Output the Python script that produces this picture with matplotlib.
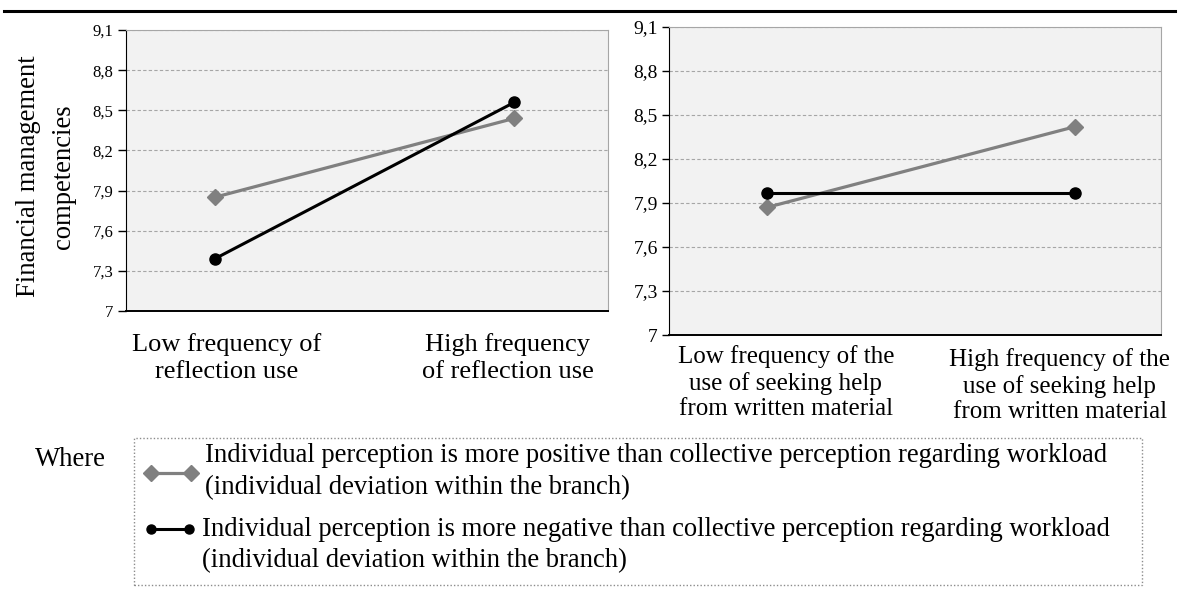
import matplotlib
matplotlib.use("Agg")
import matplotlib.pyplot as plt
import matplotlib.transforms as mtransforms
from matplotlib.lines import Line2D
from matplotlib.patches import Rectangle

plt.rcParams['font.family'] = ['Liberation Serif', 'DejaVu Serif']

# ---- data ----
left_categories = ["Low frequency of\nreflection use", "High frequency\nof reflection use"]
right_categories = ["Low frequency of the\nuse of seeking help\nfrom written material",
                    "High frequency of the\nuse of seeking help\nfrom written material"]
left_positive = [7.85, 8.44]
left_negative = [7.39, 8.56]
right_positive = [7.87, 8.42]
right_negative = [7.97, 7.97]
y_ticks = [7.0, 7.3, 7.6, 7.9, 8.2, 8.5, 8.8, 9.1]
y_tick_labels = ["7", "7,3", "7,6", "7,9", "8,2", "8,5", "8,8", "9,1"]
y_label = "Financial management\ncompetencies"
legend_positive = "Individual perception is more positive than collective perception regarding workload\n(individual deviation within the branch)"
legend_negative = "Individual perception is more negative than collective perception regarding workload\n(individual deviation within the branch)"
where_text = "Where"

W, H = 1179, 593
fig = plt.figure(figsize=(W / 100, H / 100), dpi=100)


def fx(x):
    return x / W


def fy(y):
    return 1 - y / H


GRAY = "#808080"
BG = "#f2f2f2"
FS = 19.15


def make_axes(rect, pos_vals, neg_vals, cats, xlim, ticksize, ticklen,
              label_offsets, pad, catsize, catspacing):
    ax = fig.add_axes(rect)
    ax.set_facecolor(BG)
    xs = list(range(len(cats)))
    ax.plot(xs, pos_vals, color=GRAY, lw=2.3, marker='D', markersize=8.5,
            markerfacecolor=GRAY, markeredgecolor=GRAY, zorder=3)
    ax.plot(xs, neg_vals, color='black', lw=2.2, marker='o', markersize=8,
            markerfacecolor='black', markeredgecolor='black', zorder=4)
    ax.set_xlim(*xlim)
    ax.set_ylim(7.0, 9.1)
    ax.set_yticks(y_ticks)
    ax.set_yticklabels(y_tick_labels, fontsize=ticksize)
    ax.yaxis.grid(True, linestyle=(0, (3, 2)), color='#a6a6a6', linewidth=0.8)
    ax.set_axisbelow(True)
    ax.set_xticks(xs)
    ax.set_xticklabels(cats, fontsize=catsize, linespacing=catspacing)
    ax.tick_params(axis='x', length=0, pad=pad)
    ax.tick_params(axis='y', length=ticklen, width=1, direction='out', pad=3)
    for lbl, (dx, dy) in zip(ax.get_xticklabels(), label_offsets):
        lbl.set_transform(lbl.get_transform() +
                          mtransforms.ScaledTranslation(dx / 100, dy / 100, fig.dpi_scale_trans))
    ax.spines['left'].set_color('black')
    ax.spines['bottom'].set_color('black')
    ax.spines['bottom'].set_linewidth(1.4)
    ax.spines['top'].set_color('#a6a6a6')
    ax.spines['right'].set_color('#a6a6a6')
    return ax


axL = make_axes([fx(126), fy(311), fx(608) - fx(126), fy(30) - fy(311)],
                left_positive, left_negative, left_categories, (-0.296, 1.312),
                12, 6, [(12, 0), (-7, 0)], 15.5, 19, 1.3)
axR = make_axes([fx(669), fy(335), fx(1161) - fx(669), fy(27) - fy(335)],
                right_positive, right_negative, right_categories, (-0.318, 1.280),
                14, 5, [(19, 0), (-15, -3)], 7, 18, 1.22)

axL.set_ylabel(y_label, fontsize=FS, linespacing=1.5, labelpad=12)
ylab = axL.yaxis.label
ylab.set_transform(ylab.get_transform() +
                   mtransforms.ScaledTranslation(0, -6 / 100, fig.dpi_scale_trans))

# top rule
fig.add_artist(Line2D([fx(4), fx(1175)], [fy(11), fy(11)], color='black', lw=2.2,
                      transform=fig.transFigure))

# legend box
fig.add_artist(Rectangle((fx(134), fy(585)), fx(1142) - fx(134), fy(438) - fy(585),
                         transform=fig.transFigure, fill=False, edgecolor='#8c8c8c',
                         linestyle=(0, (1, 1.5)), lw=1))
fig.text(fx(35), fy(460), where_text, fontsize=FS, va='center', ha='left')

fig.add_artist(Line2D([fx(151), fx(191)], [fy(473), fy(473)], color=GRAY, lw=2.3,
                      marker='D', markersize=8.5, markerfacecolor=GRAY,
                      markeredgecolor=GRAY, transform=fig.transFigure))
fig.text(fx(205), fy(472), legend_positive, fontsize=FS, va='center', ha='left',
         linespacing=1.38)

fig.add_artist(Line2D([fx(151), fx(189)], [fy(529), fy(529)], color='black', lw=2.2,
                      marker='o', markersize=6.5, markerfacecolor='black',
                      markeredgecolor='black', transform=fig.transFigure))
fig.text(fx(202), fy(545), legend_negative, fontsize=FS, va='center', ha='left',
         linespacing=1.32)

fig.savefig("out.png", dpi=100)
